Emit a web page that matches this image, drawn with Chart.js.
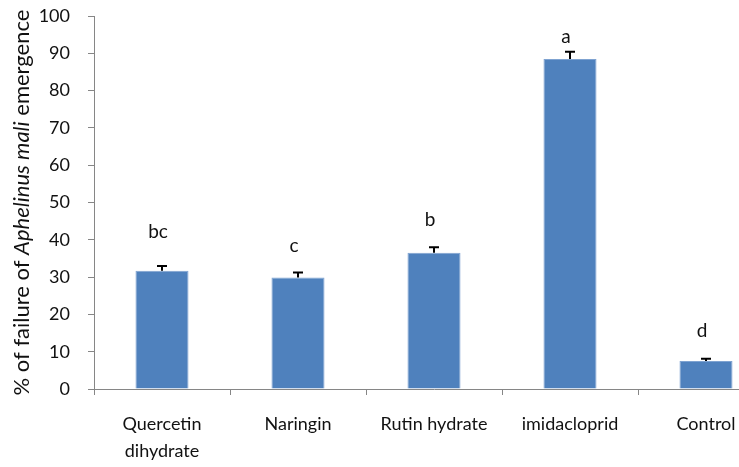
<!DOCTYPE html>
<html>
<head>
<meta charset="utf-8">
<script src="https://cdn.jsdelivr.net/npm/chart.js@4"></script>
<style>
    html, body { margin: 0; padding: 0; background: #fff; overflow: hidden; }
    #chart { display: block; }
</style>
</head>
<body>
<canvas id="chart" width="780" height="467" style="width:780px;height:467px"></canvas>
<script>
; (() => {
    "use strict";

    const categories = [["Quercetin", "dihydrate"], "Naringin", "Rutin hydrate", "imidacloprid", "Control"];
    const failure = [31.7, 29.9, 36.5, 88.5, 7.5];
    const errors = [1.3, 1.3, 1.5, 1.9, 0.6];
    const letters = ["bc", "c", "b", "a", "d"];
    const letterAt = [40.5, 36.7, 43.8, 92.8, 13.9];
    const yTicks = [0, 10, 20, 30, 40, 50, 60, 70, 80, 90, 100];

    const _font = "Lato, 'Liberation Sans', sans-serif";
    const _axisColor = '#868686';
    const _text = '#111';

    // error bars + significance letters, drawn through the scales
    const extras = {
        id: 'extras',
        afterDatasetsDraw(chart) {
            const ctx = chart.ctx;
            const x = chart.scales.x, y = chart.scales.y;
            ctx.save();
            failure.forEach((v, i) => {
                const cx = x.getPixelForValue(i);
                const top = y.getPixelForValue(v + errors[i]);
                ctx.strokeStyle = '#000';
                ctx.lineWidth = 2;
                ctx.beginPath();
                ctx.moveTo(cx, y.getPixelForValue(v));
                ctx.lineTo(cx, top);
                ctx.moveTo(cx - 5, top);
                ctx.lineTo(cx + 5, top);
                ctx.stroke();

                ctx.fillStyle = _text;
                ctx.font = "19px " + _font;
                ctx.textAlign = 'center';
                ctx.textBaseline = 'alphabetic';
                ctx.fillText(letters[i], cx - 4, y.getPixelForValue(letterAt[i]));
            });
            ctx.restore();
        },
        afterDraw(chart) {
            // y title with the italic species name
            const ctx = chart.ctx;
            const area = chart.chartArea;
            const parts = [
                ["% of failure of ", "normal"],
                ["Aphelinus mali", "italic"],
                [" emergence", "normal"]
            ];
            ctx.save();
            ctx.translate(22, (area.top + area.bottom) / 2);
            ctx.rotate(-Math.PI / 2);
            ctx.fillStyle = _text;
            ctx.textBaseline = 'middle';
            ctx.textAlign = 'left';
            let total = 0;
            parts.forEach(p => {
                ctx.font = p[1] + " 22px " + _font;
                total += ctx.measureText(p[0]).width;
            });
            let cur = -total / 2;
            parts.forEach(p => {
                ctx.font = p[1] + " 22px " + _font;
                ctx.fillText(p[0], cur, 0);
                cur += ctx.measureText(p[0]).width;
            });
            ctx.restore();
        }
    };

    new Chart(document.getElementById('chart'), {
        type: 'bar',
        data: {
            labels: categories,
            datasets: [{
                data: failure,
                backgroundColor: '#4f81bd',
                borderColor: '#7fa3d1',
                borderWidth: 1,
                barPercentage: 0.39,
                categoryPercentage: 1
            }]
        },
        options: {
            responsive: false,
            animation: false,
            layout: {
                padding: { left: 0, top: 16, right: 6, bottom: 0 }
            },
            plugins: {
                legend: { display: false },
                tooltip: { enabled: false }
            },
            scales: {
                x: {
                    offset: true,
                    grid: {
                        offset: true,
                        drawOnChartArea: false,
                        color: _axisColor,
                        tickLength: 6,
                        tickColor: _axisColor
                    },
                    border: { color: _axisColor, width: 1 },
                    ticks: {
                        color: _text,
                        font: { family: _font, size: 18, lineHeight: 1.5 },
                        padding: 16,
                        maxRotation: 0,
                        autoSkip: false
                    },
                    afterFit: s => { s.height = 78; s.paddingLeft = 0; s.paddingRight = 0; }
                },
                y: {
                    min: 0,
                    max: 100,
                    afterBuildTicks: s => { s.ticks = yTicks.map(v => ({ value: v })); },
                    grid: {
                        drawOnChartArea: false,
                        tickLength: 6,
                        tickColor: _axisColor
                    },
                    border: { color: _axisColor, width: 1 },
                    ticks: {
                        color: _text,
                        font: { family: _font, size: 18 },
                        padding: 18
                    },
                    afterFit: s => { s.width = 94; s.paddingTop = 0; s.paddingBottom = 0; }
                }
            }
        },
        plugins: [extras]
    });

})();
</script>
</body>
</html>
